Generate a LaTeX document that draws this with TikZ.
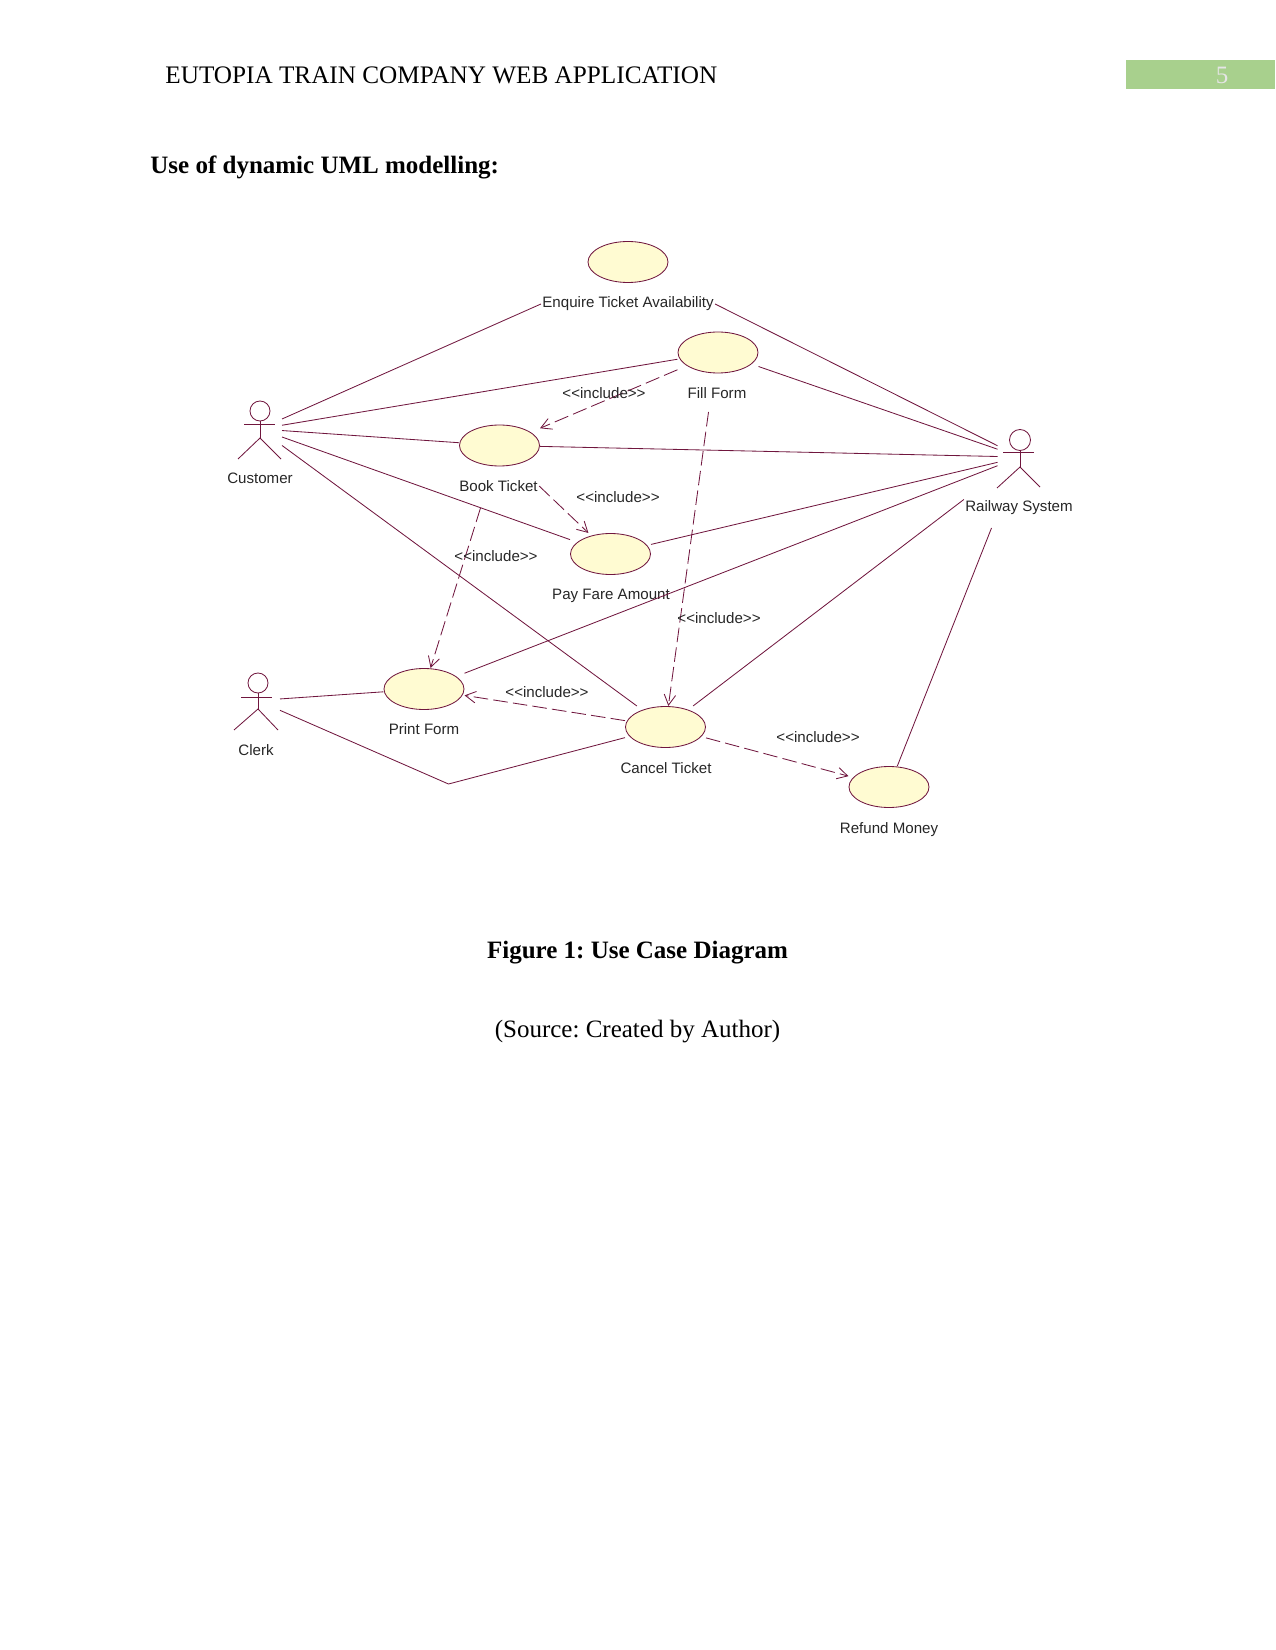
\documentclass[tikz,border=0pt]{standalone}
\usepackage{fontspec}
\usepackage{xcolor}
\usetikzlibrary{arrows.meta}
\setmainfont{Liberation Serif}
\newfontfamily\labelfont{Liberation Sans}
\definecolor{umlline}{RGB}{112,22,62}
\definecolor{umlfill}{RGB}{255,251,210}
\definecolor{headgreen}{RGB}{168,208,141}

\begin{document}
\frenchspacing
\begin{tikzpicture}[x=0.48pt,y=-0.48pt,
  usecase/.style={rectangle,inner sep=0,outer sep=0,minimum width=38.9pt,minimum height=20.2pt,
    path picture={\filldraw[umlline,line width=0.4pt,fill=umlfill] (path picture bounding box.center) ellipse [x radius=19.2pt,y radius=9.84pt];}},
  actorbox/.style={rectangle,inner sep=0,outer sep=0,minimum width=21.6pt,minimum height=28pt},
  uclabel/.style={font=\labelfont\fontsize{7.25}{8}\selectfont,inner sep=0.5pt,text=black!85},
  assoc/.style={umlline,line width=0.4pt},
  incl/.style={umlline,line width=0.4pt,dash pattern=on 7pt off 2.5pt,-{Straight Barb[length=5pt,width=5.5pt]}}]
\useasboundingbox (0,0) rectangle (1275,1650);

\fill[headgreen] (1125.5,60) rectangle (1275,89);
\node[font=\fontsize{12}{14}\selectfont,text=white!90!black] (pagenum) at (1222,75) {5};
\node[anchor=west,font=\fontsize{12.1}{14}\selectfont,inner sep=0] (pagehead) at (165,75) {EUTOPIA TRAIN COMPANY WEB APPLICATION};
\node[anchor=west,font=\bfseries\fontsize{12}{14}\selectfont,inner sep=0] (sectionhead) at (150,167) {Use of dynamic UML modelling:};
\node[font=\bfseries\fontsize{12}{14}\selectfont,inner sep=0] (figcaption) at (637.5,953) {Figure 1: Use Case Diagram};
\node[font=\fontsize{12}{14}\selectfont,inner sep=0] (figsource) at (637.5,1032) {(Source: Created by Author)};

\node[usecase] (enquire) at (628,262) {};
\node[usecase] (fillform) at (718,352.5) {};
\node[usecase] (bookticket) at (499.5,445.5) {};
\node[usecase] (payfare) at (610.5,554) {};
\node[usecase] (printform) at (424,689) {};
\node[usecase] (cancelticket) at (665.5,727) {};
\node[usecase] (refund) at (889,787) {};

\node[uclabel] (enquirename) at (628,304) {Enquire Ticket Availability};
\node[uclabel] (fillformname) at (717,393) {Fill Form};
\node[uclabel] (bookname) at (498.5,486) {Book Ticket};
\node[uclabel] (payname) at (611,595.5) {Pay Fare Amount};
\node[uclabel] (printname) at (424,729) {Print Form};
\node[uclabel] (cancelname) at (666,768) {Cancel Ticket};
\node[uclabel] (refundname) at (889,830) {Refund Money};

\node[actorbox] (customer) at (259.5,429) {};
\draw[assoc] (260,411) circle [radius=10];
\draw[assoc] (260,421) -- (260,438);
\draw[assoc] (244,424) -- (275,424);
\draw[assoc] (238,459) -- (260,438) -- (281,459);
\node[uclabel] (customername) at (260,478) {Customer};

\node[actorbox] (clerk) at (257.5,700.5) {};
\draw[assoc] (258,683) circle [radius=10];
\draw[assoc] (258,693) -- (258,709);
\draw[assoc] (241,697) -- (272,697);
\draw[assoc] (234,730) -- (258,709) -- (278,730);
\node[uclabel] (clerkname) at (256,750) {Clerk};

\node[actorbox] (railway) at (1020,457) {};
\draw[assoc] (1020,440) circle [radius=10.5];
\draw[assoc] (1020,450.5) -- (1020,467);
\draw[assoc] (1003,452) -- (1034,452);
\draw[assoc] (997,488) -- (1020,467) -- (1040,487);
\node[uclabel] (railwayname) at (1019,508) {Railway System};

\coordinate (clerkbend) at (448.5,784);
\coordinate (fillformgap) at (708.5,412);
\coordinate (bookgap) at (480.5,508);
\coordinate (railwaygap) at (991.5,528);

\draw[assoc] (customer) -- (enquirename.west);
\draw[assoc] (customer) -- (fillform);
\draw[assoc] (customer) -- (bookticket);
\draw[assoc] (customer) -- (payfare);
\draw[assoc] (customer) -- (cancelticket);
\draw[assoc] (railway) -- (enquirename.east);
\draw[assoc] (railway) -- (fillform);
\draw[assoc] (railway) -- (bookticket);
\draw[assoc] (railway) -- (payfare);
\draw[assoc] (railway) -- (printform);
\draw[assoc] (railwayname.north west) -- (cancelticket);
\draw[assoc] (railwaygap) -- (refund);
\draw[assoc] (clerk) -- (printform);
\draw[assoc] (clerk) -- (clerkbend) -- (cancelticket);

\draw[incl] (fillform) -- (bookticket);
\draw[incl] (fillformgap) -- (cancelticket);
\draw[incl] (bookname.east) -- (payfare);
\draw[incl] (bookgap) -- (printform);
\draw[incl] (cancelticket) -- (printform);
\draw[incl] (cancelticket) -- (refund);

\node[uclabel] (includea) at (604,393) {<{}<include>{}>};
\node[uclabel] (includeb) at (618,497) {<{}<include>{}>};
\node[uclabel] (includec) at (496,556) {<{}<include>{}>};
\node[uclabel] (included) at (719,618) {<{}<include>{}>};
\node[uclabel] (includee) at (547,692) {<{}<include>{}>};
\node[uclabel] (includef) at (818,737) {<{}<include>{}>};
\end{tikzpicture}
\end{document}
